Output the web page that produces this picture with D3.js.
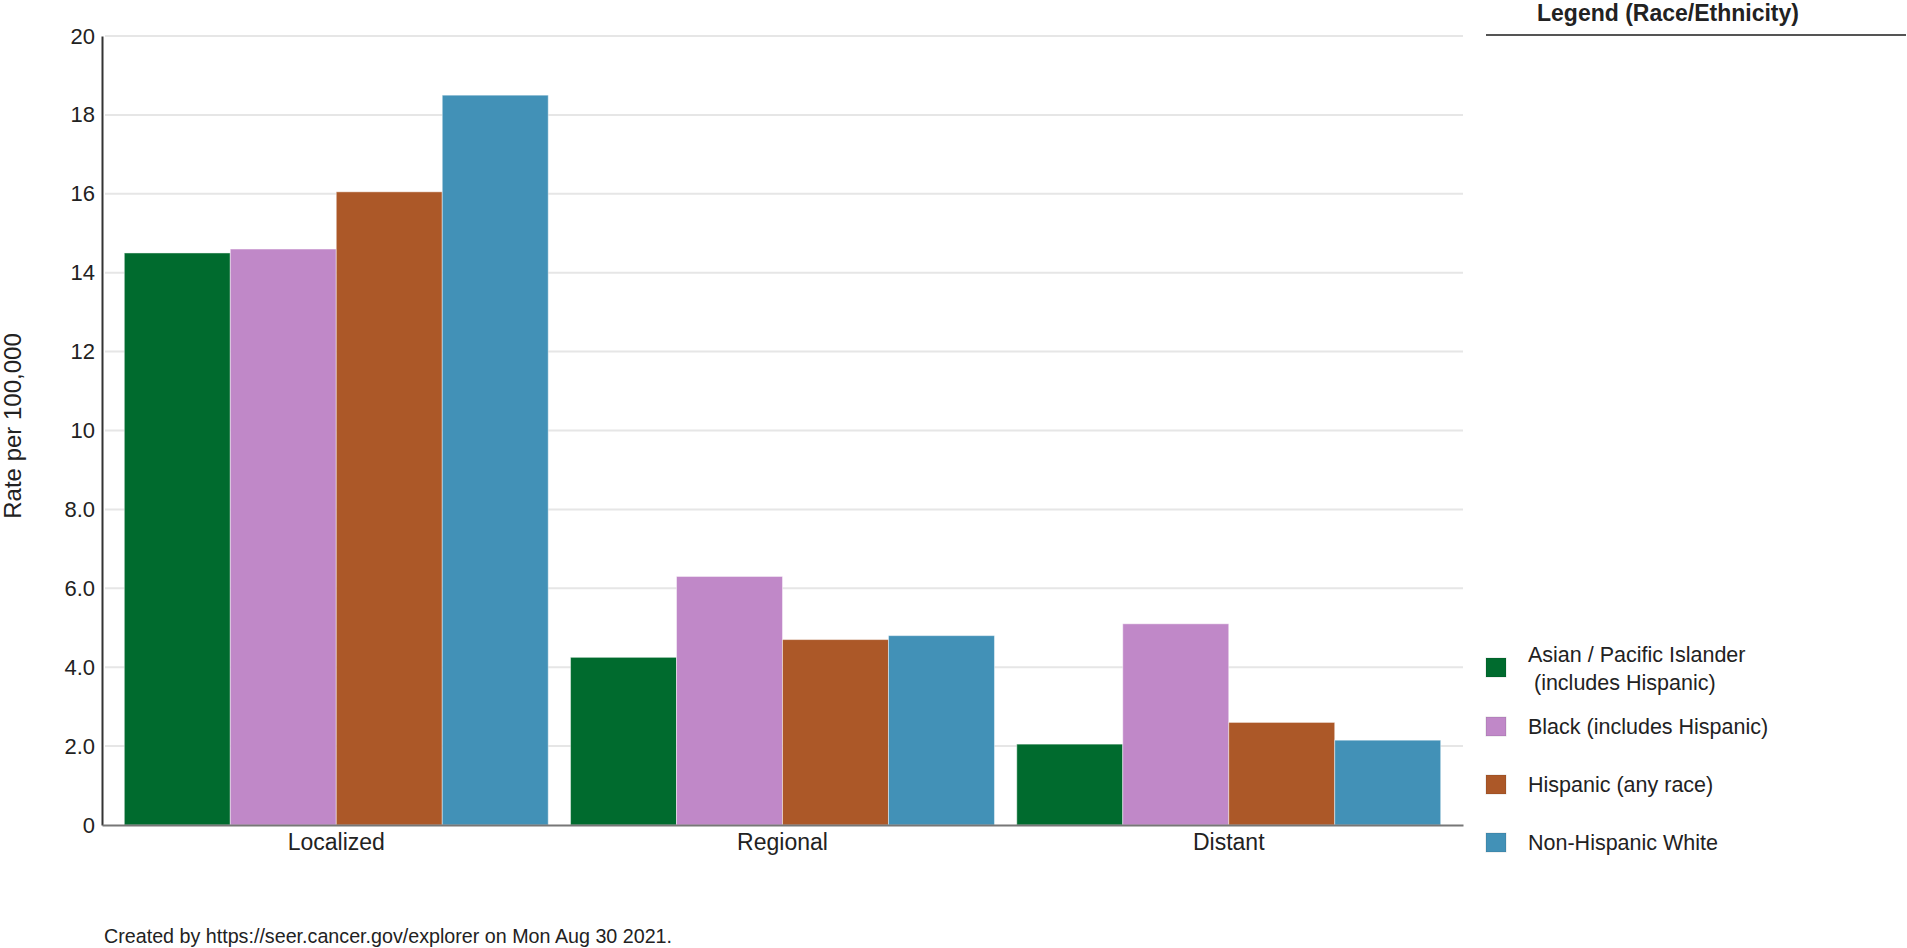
<!DOCTYPE html>
<html>
<head>
<meta charset="utf-8">
<script src="https://cdn.jsdelivr.net/npm/d3@7"></script>
<style>
  body { margin: 0; background: #fff; }
  text { font-family: "Liberation Sans", Arial, sans-serif; }
</style>
</head>
<body>
<div id="chart"></div>
<script>
// stages on the x axis
var stages = ["Localized", "Regional", "Distant"];
// race / ethnicity series, one value per stage (rate per 100,000)
var seriesNames = ["Asian / Pacific Islander (includes Hispanic)", "Black (includes Hispanic)", "Hispanic (any race)", "Non-Hispanic White"];
var asianValues = [14.5, 4.25, 2.05];
var blackValues = [14.6, 6.3, 5.1];
var hispanicValues = [16.05, 4.7, 2.6];
var whiteValues = [18.5, 4.8, 2.15];
// legend lines
var legendLines = [["Asian / Pacific Islander", "\u00a0(includes Hispanic)"], ["Black (includes Hispanic)"], ["Hispanic (any race)"], ["Non-Hispanic White"]];
var yTicks = [0, 2, 4, 6, 8, 10, 12, 14, 16, 18, 20];
var yTickLabels = ["0", "2.0", "4.0", "6.0", "8.0", "10", "12", "14", "16", "18", "20"];
var colors = ["#006b2e", "#c088c8", "#ac5828", "#4291b7"];

var W = 1907, H = 948;
var plotLeft = 102, plotRight = 1463, plotTop = 36, plotBottom = 825;

var svg = d3.select("#chart").append("svg")
  .attr("width", W)
  .attr("height", H);

var allValues = [asianValues, blackValues, hispanicValues, whiteValues];

var x0 = d3.scaleBand()
  .domain(stages)
  .range([plotLeft, plotRight])
  .paddingInner(0.05)
  .paddingOuter(0.05);

var x1 = d3.scaleBand()
  .domain(d3.range(seriesNames.length))
  .range([0, x0.bandwidth()]);

var y = d3.scaleLinear()
  .domain([0, 20])
  .range([plotBottom, plotTop]);

// gridlines
svg.append("g")
  .selectAll("line")
  .data(yTicks.slice(1))
  .enter().append("line")
    .attr("x1", plotLeft + 3)
    .attr("x2", plotRight)
    .attr("y1", function(d) { return y(d); })
    .attr("y2", function(d) { return y(d); })
    .attr("stroke", "#e6e6e6")
    .attr("stroke-width", 2);

// bars
var rows = [];
stages.forEach(function(s, i) {
  allValues.forEach(function(vals, k) {
    rows.push({stage: s, k: k, value: vals[i]});
  });
});

svg.append("g")
  .selectAll("rect")
  .data(rows)
  .enter().append("rect")
    .attr("x", function(d) { return x0(d.stage) + x1(d.k); })
    .attr("width", x1.bandwidth())
    .attr("y", function(d) { return y(d.value); })
    .attr("height", function(d) { return y(0) - y(d.value); })
    .attr("fill", function(d) { return colors[d.k]; })
    .attr("stroke", "rgba(255,255,255,0.45)")
    .attr("stroke-width", 1);

// y axis
var yAxis = svg.append("g")
  .attr("transform", "translate(" + plotLeft + ",0)")
  .call(d3.axisLeft(y).tickValues(yTicks).tickSize(0).tickPadding(7)
    .tickFormat(function(d, i) { return yTickLabels[i]; }));
yAxis.select(".domain").attr("stroke", "#333").attr("stroke-width", 2);
yAxis.selectAll("text")
  .attr("font-size", "22px")
  .attr("fill", "#222")
  .style("font-family", "Liberation Sans, Arial, sans-serif");

// x axis
var xAxis = svg.append("g")
  .attr("transform", "translate(0," + plotBottom + ")")
  .call(d3.axisBottom(x0).tickSize(0).tickPadding(9));
xAxis.select(".domain").attr("stroke", "#777").attr("stroke-width", 2);
xAxis.selectAll("text")
  .attr("font-size", "23px")
  .attr("fill", "#222")
  .style("font-family", "Liberation Sans, Arial, sans-serif");

// y title
svg.append("text")
  .attr("transform", "translate(21,426) rotate(-90)")
  .attr("text-anchor", "middle")
  .attr("font-size", "24px")
  .attr("fill", "#222")
  .text("Rate per 100,000");

// legend
var lx = 1486;
svg.append("text")
  .attr("x", 1668)
  .attr("y", 21)
  .attr("text-anchor", "middle")
  .attr("font-size", "23px")
  .attr("font-weight", "bold")
  .attr("fill", "#222")
  .text("Legend (Race/Ethnicity)");
svg.append("line")
  .attr("x1", lx).attr("x2", 1906)
  .attr("y1", 35).attr("y2", 35)
  .attr("stroke", "#555")
  .attr("stroke-width", 2);

var legendY = [658, 717, 775, 833];
var item = svg.append("g").selectAll("g")
  .data(legendLines)
  .enter().append("g")
    .attr("transform", function(d, i) { return "translate(" + lx + "," + legendY[i] + ")"; });
item.append("rect")
  .attr("width", 20).attr("height", 19)
  .attr("fill", function(d, i) { return colors[i]; })
  .attr("stroke", "rgba(0,0,0,0.12)");
item.append("text")
  .attr("x", 42)
  .attr("font-size", "21.5px")
  .attr("fill", "#222")
  .selectAll("tspan")
  .data(function(d) { return d; })
  .enter().append("tspan")
    .attr("x", 42)
    .attr("y", function(d, j, n) { return n.length > 1 ? 4 + j * 28 : 17; })
    .text(function(d) { return d; });

// footer
svg.append("text")
  .attr("x", 104)
  .attr("y", 943)
  .attr("font-size", "19.7px")
  .attr("fill", "#222")
  .text("Created by https://seer.cancer.gov/explorer on Mon Aug 30 2021.");
</script>
</body>
</html>
